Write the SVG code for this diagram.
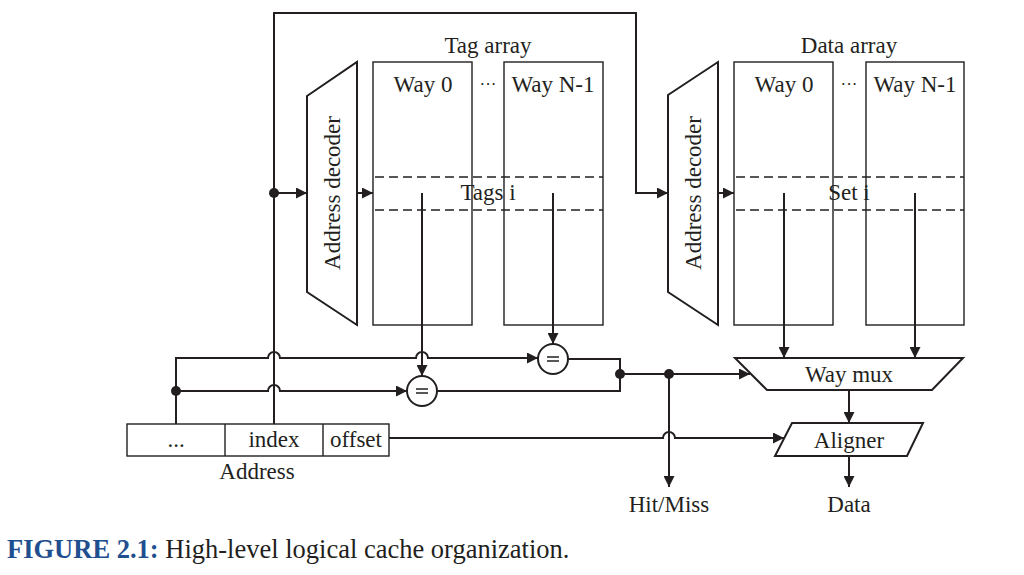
<svg xmlns="http://www.w3.org/2000/svg" width="1024" height="575" viewBox="0 0 1024 575">
<defs>
<style>
.t{font-family:"Liberation Serif","Times New Roman",serif;font-size:23px;fill:#231f20;text-anchor:middle}
.box{fill:#fff;stroke:#231f20;stroke-width:1.4}
.sh{fill:#fff;stroke:#231f20;stroke-width:2}
.w{fill:none;stroke:#231f20;stroke-width:2}
.d{fill:none;stroke:#231f20;stroke-width:1.4;stroke-dasharray:9 5}
.dot{fill:#231f20}
</style>
<marker id="ah" viewBox="0 0 10 10" refX="10" refY="5" markerWidth="11" markerHeight="11" markerUnits="userSpaceOnUse" orient="auto">
<path d="M0,0 L10,5 L0,10 z" fill="#231f20"/>
</marker>
</defs>
<rect width="1024" height="575" fill="#fff"/>

<g id="tag-array">
<text class="t" x="488" y="53">Tag array</text>
<rect class="box" x="373" y="62" width="99" height="263"/>
<rect class="box" x="504" y="62" width="99" height="263"/>
<text class="t" x="423" y="92">Way 0</text>
<text class="t" x="488" y="90" style="font-size:17px">···</text>
<text class="t" x="553" y="92">Way N-1</text>
<line class="d" x1="375" y1="177" x2="603" y2="177"/>
<line class="d" x1="375" y1="210" x2="603" y2="210"/>
<text class="t" x="488" y="200">Tags i</text>
</g>

<g id="tag-decoder">
<polygon class="sh" points="307,96 357,62 357,325 307,292"/>
<text class="t" transform="translate(340,193) rotate(-90)">Address decoder</text>
</g>

<g id="data-array">
<text class="t" x="849" y="53">Data array</text>
<rect class="box" x="734" y="62" width="99" height="263"/>
<rect class="box" x="866" y="62" width="98" height="263"/>
<text class="t" x="784" y="92">Way 0</text>
<text class="t" x="849" y="90" style="font-size:17px">···</text>
<text class="t" x="915" y="92">Way N-1</text>
<line class="d" x1="736" y1="177" x2="964" y2="177"/>
<line class="d" x1="736" y1="210" x2="964" y2="210"/>
<text class="t" x="849" y="200">Set i</text>
</g>

<g id="data-decoder">
<polygon class="sh" points="668,95 718,62 718,325 668,292"/>
<text class="t" transform="translate(701,193) rotate(-90)">Address decoder</text>
</g>

<g id="cmp1">
<circle class="sh" cx="422" cy="391" r="15"/>
<line class="w" x1="416" y1="389" x2="428" y2="389" style="stroke-width:1.5"/>
<line class="w" x1="416" y1="393" x2="428" y2="393" style="stroke-width:1.5"/>
</g>
<g id="cmp2">
<circle class="sh" cx="553" cy="359" r="15"/>
<line class="w" x1="547" y1="357" x2="559" y2="357" style="stroke-width:1.5"/>
<line class="w" x1="547" y1="361" x2="559" y2="361" style="stroke-width:1.5"/>
</g>

<g id="way-mux">
<polygon class="sh" points="735,358 963,358 932,390 767,390"/>
<text class="t" x="849" y="382">Way mux</text>
</g>

<g id="aligner">
<polygon class="sh" points="792,423 923,423 907,456 775,456"/>
<text class="t" x="849" y="448">Aligner</text>
</g>

<g id="address">
<rect class="box" x="127" y="424" width="262" height="32"/>
<line class="box" x1="225" y1="424" x2="225" y2="456"/>
<line class="box" x1="323" y1="424" x2="323" y2="456"/>
<text class="t" x="176" y="447">...</text>
<text class="t" x="274" y="447">index</text>
<text class="t" x="356" y="447">offset</text>
<text class="t" x="257" y="479">Address</text>
</g>

<g id="labels">
<text class="t" x="669" y="512">Hit/Miss</text>
<text class="t" x="849" y="512">Data</text>
</g>

<g id="connectors">
<path class="w" d="M274,424 L274,13 L636,13 L636,193 L668,193" marker-end="url(#ah)"/>
<line class="w" x1="274" y1="193" x2="307" y2="193" marker-end="url(#ah)"/>
<line class="w" x1="357" y1="193" x2="373" y2="193" marker-end="url(#ah)"/>
<line class="w" x1="718" y1="193" x2="734" y2="193" marker-end="url(#ah)"/>
<circle class="dot" cx="274" cy="193" r="5"/>
<line class="w" x1="422" y1="193" x2="422" y2="376" marker-end="url(#ah)"/>
<line class="w" x1="553" y1="193" x2="553" y2="344" marker-end="url(#ah)"/>
<line class="w" x1="784" y1="193" x2="784" y2="358" marker-end="url(#ah)"/>
<line class="w" x1="915" y1="193" x2="915" y2="358" marker-end="url(#ah)"/>
<path class="w" d="M176,424 L176,358 L268,358 A6,6 0 0 1 280,358 L416,358 A6,6 0 0 1 428,358 L538,358" marker-end="url(#ah)"/>
<path class="w" d="M176,391 L268,391 A6,6 0 0 1 280,391 L407,391" marker-end="url(#ah)"/>
<circle class="dot" cx="176" cy="391" r="5"/>
<path class="w" d="M568,359 L620,359 L620,391 L437,391"/>
<circle class="dot" cx="620" cy="374" r="5"/>
<line class="w" x1="620" y1="374" x2="750" y2="374" marker-end="url(#ah)"/>
<circle class="dot" cx="669" cy="374" r="5"/>
<line class="w" x1="669" y1="374" x2="669" y2="487" marker-end="url(#ah)"/>
<path class="w" d="M389,438 L663,438 A6,6 0 0 1 675,438 L784,438" marker-end="url(#ah)"/>
<line class="w" x1="849" y1="390" x2="849" y2="423" marker-end="url(#ah)"/>
<line class="w" x1="849" y1="456" x2="849" y2="487" marker-end="url(#ah)"/>
</g>

<g id="caption">
<text x="7" y="558" style="font-family:'Liberation Serif','Times New Roman',serif;font-size:26.5px;fill:#231f20"><tspan style="font-weight:bold;fill:#1f4f8f">FIGURE 2.1:</tspan> High-level logical cache organization.</text>
</g>
</svg>
